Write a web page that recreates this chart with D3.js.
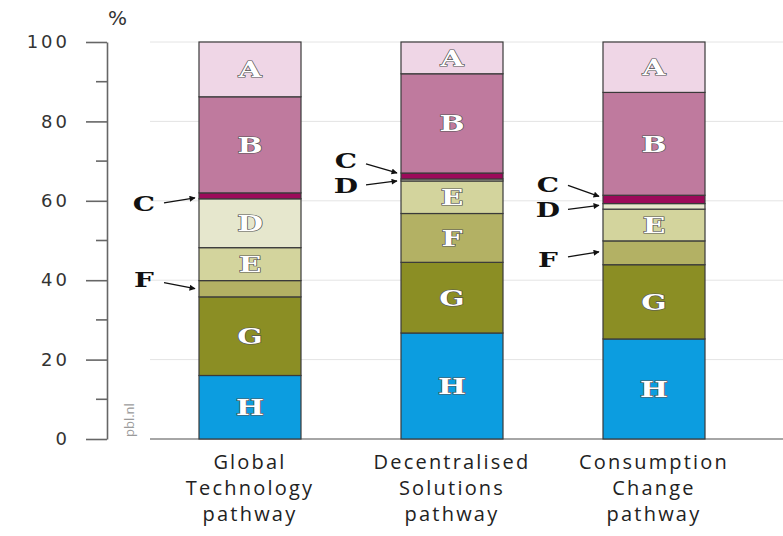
<!DOCTYPE html>
<html>
<head>
<meta charset="utf-8">
<script src="https://cdn.jsdelivr.net/npm/d3@7"></script>
<style>
  body { margin: 0; background: #fff; }
  svg { display: block; }
</style>
</head>
<body>
<div id="chart"></div>
<script>
/**
 * DATA
 * */
const pathways = ["Global Technology pathway", "Decentralised Solutions pathway", "Consumption Change pathway"];
const pathwayLines = [["Global", "Technology", "pathway"], ["Decentralised", "Solutions", "pathway"], ["Consumption", "Change", "pathway"]];
// stacked from bottom (H) to top (A), in %
const segments = ["H", "G", "F", "E", "D", "C", "B", "A"];
const globalTech = [16.0, 19.8, 4.1, 8.3, 12.3, 1.5, 24.2, 13.8];
const decentralised = [26.7, 17.8, 12.3, 8.2, 0.5, 1.5, 25.0, 8.0];
const consumption = [25.2, 18.7, 6.0, 8.0, 1.4, 2.1, 25.9, 12.7];
const yTicks = [0, 20, 40, 60, 80, 100];
const yMinorTicks = [10, 30, 50, 70, 90];
// letters written beside the bar: [pathway index, segment, label dy, tail dy, tip dy]
const callouts = [
  [0, "C", 7, 7, 2],
  [0, "F", -10, -6, 0],
  [1, "C", -16, -12, -3],
  [1, "D", 5, 5, 1],
  [2, "C", -15, -14, -3],
  [2, "D", 3, 3, -1],
  [2, "F", 6, 4, -1]
];

/**
 * CONSTANTS
 * */
const width = 783, height = 536;
const colors = {
  A: "#efd6e6", B: "#bf7a9e", C: "#9c0a5a", D: "#e6e7cd",
  E: "#d3d49d", F: "#b3b164", G: "#8b8e24", H: "#0c9de0"
};

const svg = d3.select("#chart").append("svg")
  .attr("width", width).attr("height", height);

const y = d3.scaleLinear().domain([0, 100]).range([439, 42]);
const x = d3.scaleBand().domain(pathways).range([149, 755])
  .paddingInner(0.495).paddingOuter(0.2475);

// build stacked table
const table = pathways.map((p, i) => {
  const vals = [globalTech, decentralised, consumption][i];
  const row = { pathway: p };
  segments.forEach((s, j) => row[s] = vals[j]);
  return row;
});
const series = d3.stack().keys(segments)(table);

// gridlines
svg.append("g").selectAll("line")
  .data(yTicks.filter(d => d > 0))
  .join("line")
  .attr("x1", 150).attr("x2", width)
  .attr("y1", d => y(d)).attr("y2", d => y(d))
  .attr("stroke", "#e4e4e4").attr("stroke-width", 1);

// y axis
const axisG = svg.append("g").attr("transform", "translate(107,0)");
axisG.call(d3.axisLeft(y).tickValues(yTicks).tickSize(21).tickPadding(16).tickSizeOuter(0))
  .call(g => g.select(".domain").attr("stroke", "#666").attr("stroke-width", 1.6))
  .call(g => g.selectAll(".tick line").attr("stroke", "#666").attr("stroke-width", 1.6))
  .call(g => g.selectAll(".tick text")
    .attr("font-family", "DejaVu Sans").attr("font-size", 18)
    .attr("letter-spacing", 3).attr("fill", "#333"));
axisG.append("g").selectAll("line")
  .data(yMinorTicks).join("line")
  .attr("x1", -11).attr("x2", 0)
  .attr("y1", d => y(d)).attr("y2", d => y(d))
  .attr("stroke", "#666").attr("stroke-width", 1.6);

svg.append("text").attr("x", 108).attr("y", 25)
  .attr("font-family", "DejaVu Sans").attr("font-size", 20)
  .attr("fill", "#333").text("%");

svg.append("text")
  .attr("transform", `translate(134,${y(0) - 2}) rotate(-90)`)
  .attr("font-family", "Open Sans").attr("font-size", 13)
  .attr("fill", "#9a9a9a").text("pbl.nl");

// baseline
svg.append("line").attr("x1", 150).attr("x2", width)
  .attr("y1", y(0)).attr("y2", y(0))
  .attr("stroke", "#888").attr("stroke-width", 1.5);

// bars
const layer = svg.append("g").selectAll("g")
  .data(series).join("g")
  .attr("fill", d => colors[d.key]);

layer.selectAll("rect")
  .data(d => d.map(v => Object.assign(v, { key: d.key })))
  .join("rect")
  .attr("x", d => x(d.data.pathway))
  .attr("width", x.bandwidth())
  .attr("y", d => y(d[1]))
  .attr("height", d => y(d[0]) - y(d[1]))
  .attr("stroke", "#3a3a3a").attr("stroke-width", 1.2);

// letters inside the bars
layer.selectAll("text")
  .data(d => d.filter(v => v[1] - v[0] >= 7))
  .join("text")
  .attr("transform", d => `translate(${x(d.data.pathway) + x.bandwidth() / 2},${(y(d[0]) + y(d[1])) / 2 + 8}) scale(1.35,1)`)
  .attr("text-anchor", "middle")
  .attr("font-family", "DejaVu Serif").attr("font-weight", "bold")
  .attr("font-size", 22)
  .attr("fill", "#fff").attr("stroke", "#555").attr("stroke-width", 1.2)
  .attr("paint-order", "stroke")
  .text(d => d.key);

// callouts
svg.append("defs").append("marker")
  .attr("id", "arrow").attr("viewBox", "0 0 10 10")
  .attr("refX", 9).attr("refY", 5)
  .attr("markerWidth", 8).attr("markerHeight", 6)
  .attr("markerUnits", "userSpaceOnUse")
  .attr("orient", "auto")
  .append("path").attr("d", "M0,0 L10,5 L0,10 Z").attr("fill", "#111");

const cg = svg.append("g");
callouts.forEach(([pi, key, ly, ty, py]) => {
  const s = series.find(d => d.key === key)[pi];
  const mid = (y(s[0]) + y(s[1])) / 2;
  const left = x(pathways[pi]);
  cg.append("text")
    .attr("transform", `translate(${left - 55},${mid + ly + 8}) scale(1.4,1)`)
    .attr("text-anchor", "middle")
    .attr("font-family", "DejaVu Serif").attr("font-weight", "bold")
    .attr("font-size", 20).attr("fill", "#111")
    .text(key);
  cg.append("line")
    .attr("x1", left - 35).attr("y1", mid + ty)
    .attr("x2", left - 4).attr("y2", mid + py)
    .attr("stroke", "#111").attr("stroke-width", 1.3)
    .attr("marker-end", "url(#arrow)");
});

// category labels
const cat = svg.append("g").selectAll("text")
  .data(pathways).join("text")
  .attr("text-anchor", "middle")
  .attr("font-family", "Open Sans").attr("font-size", 20)
  .attr("letter-spacing", 2.2)
  .attr("fill", "#222");
cat.selectAll("tspan")
  .data((d, i) => pathwayLines[i].map(t => ({ t, p: d })))
  .join("tspan")
  .attr("x", d => x(d.p) + x.bandwidth() / 2)
  .attr("y", (d, i) => 469 + i * 26)
  .text(d => d.t);
</script>
</body>
</html>
